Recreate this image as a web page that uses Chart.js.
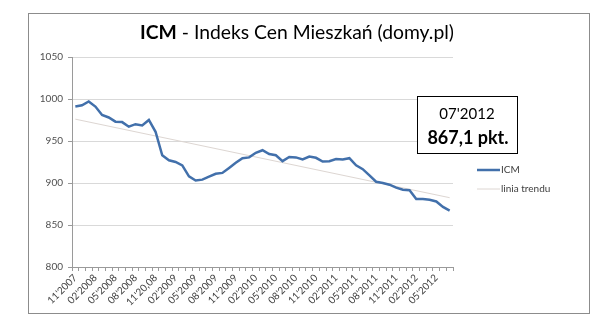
<!DOCTYPE html>
<html>
<head>
<meta charset="utf-8">
<script src="https://cdn.jsdelivr.net/npm/chart.js@4.4.0/dist/chart.umd.min.js"></script>
<style>
  html, body { margin: 0; padding: 0; background: #fff; }
  #wykres { display: block; }
</style>
</head>
<body>
<canvas id="wykres" width="603" height="326"></canvas>
<script>
// Miesiace 11'2007 - 07'2012
const miesiace = [
    "11'2007", "12'2007",
    "01'2008", "02'2008", "03'2008", "04'2008", "05'2008", "06'2008", "07'2008", "08'2008", "09'2008", "10'2008", "11'2008", "12'2008",
    "01'2009", "02'2009", "03'2009", "04'2009", "05'2009", "06'2009", "07'2009", "08'2009", "09'2009", "10'2009", "11'2009", "12'2009",
    "01'2010", "02'2010", "03'2010", "04'2010", "05'2010", "06'2010", "07'2010", "08'2010", "09'2010", "10'2010", "11'2010", "12'2010",
    "01'2011", "02'2011", "03'2011", "04'2011", "05'2011", "06'2011", "07'2011", "08'2011", "09'2011", "10'2011", "11'2011", "12'2011",
    "01'2012", "02'2012", "03'2012", "04'2012", "05'2012", "06'2012", "07'2012"
];

// Etykiety osi X (co trzeci miesiac, tak jak na oryginale)
const etykietyX = [
    "11'2007", "02'2008", "05'2008", "08'2008", "11'20,08", "02'2009", "05'2009",
    "08'2009", "11'2009", "02'2010", "05'2010", "08'2010", "11'2010", "02'2011",
    "05'2011", "08'2011", "11'2011", "02'2012", "05'2012"
];

// Wartosci indeksu ICM
const wartosciICM = [
    991, 992.5, 997, 991, 981, 978, 973, 972.5, 967, 970, 968.5, 975, 961,
    933, 927, 925, 921, 908, 903, 904, 907.5, 911, 912, 918, 924, 929.5,
    930.5, 936, 939, 934.5, 933, 926, 931, 930.5, 928, 931.5, 930, 925.5,
    926, 928.5, 928, 929.5, 921, 916.5, 909, 901.5, 900, 898, 894.5, 892,
    891.5, 881, 881, 880, 878, 871.5, 867.1
];

// Linia trendu - poczatek i koniec
const trendKonce = [976, 882.5];

// Etykiety osi Y
const etykietyY = [800, 850, 900, 950, 1000, 1050];

const ostatni = miesiace.length - 1;
const wartosciTrendu = miesiace.map((m, i) => i === 0 ? trendKonce[0] : (i === ostatni ? trendKonce[1] : null));

// Tytul, ramka, legenda i dymek z ostatnia wartoscia
const dodatki = {
    id: 'dodatki',
    beforeDraw(chart) {
        const ctx = chart.ctx;
        ctx.save();
        ctx.fillStyle = '#ffffff';
        ctx.fillRect(0, 0, chart.width, chart.height);
        ctx.strokeStyle = '#8c8c8c';
        ctx.lineWidth = 1;
        ctx.strokeRect(28.5, 13.5, 561, 300);
        ctx.restore();
    },
    afterDraw(chart) {
        const ctx = chart.ctx;
        ctx.save();

        // tytul
        const pogrubiony = 'ICM';
        const reszta = ' - Indeks Cen Mieszkań (domy.pl)';
        let rozmiar = 18;
        ctx.font = 'bold ' + rozmiar + 'px Lato';
        let w1 = ctx.measureText(pogrubiony).width;
        ctx.font = rozmiar + 'px Lato';
        let w2 = ctx.measureText(reszta).width;
        rozmiar = rozmiar * 314 / (w1 + w2);
        ctx.font = 'bold ' + rozmiar + 'px Lato';
        w1 = ctx.measureText(pogrubiony).width;
        ctx.font = rozmiar + 'px Lato';
        w2 = ctx.measureText(reszta).width;
        const xStart = 297 - (w1 + w2) / 2;
        ctx.fillStyle = '#000000';
        ctx.textBaseline = 'middle';
        ctx.textAlign = 'left';
        ctx.font = 'bold ' + rozmiar + 'px Lato';
        ctx.fillText(pogrubiony, xStart, 33);
        ctx.font = rozmiar + 'px Lato';
        ctx.fillText(reszta, xStart + w1, 33);

        // dymek z ostatnia wartoscia
        ctx.fillStyle = '#ffffff';
        ctx.fillRect(417, 96, 100, 57);
        ctx.strokeStyle = '#000000';
        ctx.lineWidth = 1;
        ctx.strokeRect(417.5, 96.5, 100, 57);
        ctx.fillStyle = '#000000';
        ctx.textAlign = 'center';
        ctx.font = '15px Lato';
        ctx.fillText(miesiace[ostatni], 467, 114);
        ctx.font = 'bold 18px Lato';
        ctx.fillText(String(wartosciICM[ostatni]).replace('.', ',') + ' pkt.', 468, 138);

        // legenda
        const zbiory = chart.data.datasets;
        const yLeg = [170, 189];
        ctx.font = '10px Lato';
        ctx.textAlign = 'left';
        zbiory.forEach((ds, i) => {
            ctx.strokeStyle = ds.borderColor;
            ctx.lineWidth = ds.borderWidth;
            ctx.beginPath();
            ctx.moveTo(477, yLeg[i]);
            ctx.lineTo(500, yLeg[i]);
            ctx.stroke();
            ctx.fillStyle = '#404040';
            ctx.fillText(ds.label, 501, yLeg[i]);
        });
        ctx.restore();
    }
};

const ctxWykres = document.getElementById('wykres').getContext('2d');
const wykres = new Chart(ctxWykres, {
    type: 'line',
    data: {
        labels: miesiace,
        datasets: [{
            label: 'ICM',
            data: wartosciICM,
            borderColor: '#4270ab',
            borderWidth: 2.5,
            pointRadius: 0,
            tension: 0,
            fill: false
        }, {
            label: 'linia trendu',
            data: wartosciTrendu,
            borderColor: '#ddd6d2',
            borderWidth: 1,
            pointRadius: 0,
            spanGaps: true,
            fill: false
        }]
    },
    options: {
        responsive: false,
        animation: false,
        layout: {
            padding: { left: 0, top: 57, right: 150, bottom: 0 }
        },
        plugins: {
            legend: { display: false },
            title: { display: false },
            tooltip: { enabled: false }
        },
        scales: {
            x: {
                offset: true,
                grid: {
                    offset: true,
                    drawOnChartArea: false,
                    drawTicks: true,
                    tickLength: 4,
                    color: '#9a9a9a'
                },
                border: { color: '#9a9a9a' },
                ticks: {
                    autoSkip: false,
                    minRotation: 45,
                    maxRotation: 45,
                    padding: 1,
                    color: '#404040',
                    font: { family: 'Lato', size: 10 },
                    callback: (v, i) => i % 3 === 0 ? etykietyX[i / 3] : ''
                },
                afterFit: (s) => { s.height = 59; }
            },
            y: {
                min: etykietyY[0],
                max: etykietyY[etykietyY.length - 1],
                afterBuildTicks: (s) => { s.ticks = etykietyY.map(v => ({ value: v })); },
                grid: {
                    color: '#d9d9d9',
                    lineWidth: 1,
                    tickLength: 4,
                    tickColor: '#9a9a9a'
                },
                border: { color: '#9a9a9a' },
                ticks: {
                    padding: 5,
                    color: '#505050',
                    font: { family: 'Lato', size: 10 },
                    callback: (v) => String(v)
                },
                afterFit: (s) => { s.width = 72; }
            }
        }
    },
    plugins: [dodatki]
});
</script>
</body>
</html>
